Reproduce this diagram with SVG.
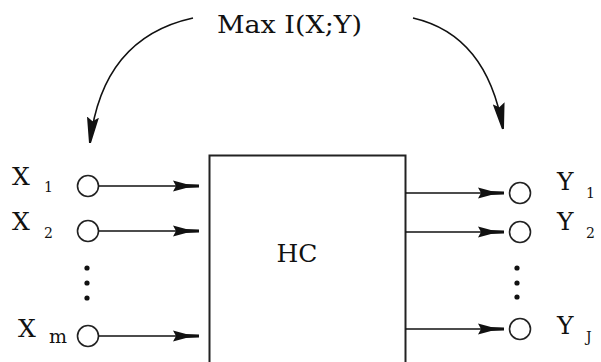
<svg xmlns="http://www.w3.org/2000/svg" width="601" height="362" viewBox="0 0 601 362">
<style>
.t{font-family:"DejaVu Serif","Liberation Serif",serif;fill:#111}
.big{font-size:25px}
.sub{font-size:14px}
.port{fill:#fff;stroke:#222;stroke-width:1.6}
.ln{fill:none;stroke:#111;stroke-width:1.6}
.dot{fill:#111}
</style>
<defs>
<marker id="ah" viewBox="0 0 26 12" refX="26" refY="6" markerWidth="26" markerHeight="12" markerUnits="userSpaceOnUse" orient="auto">
<path d="M0,0.5 L13,4 L26,4.5 L26,7.5 L13,8 L0,11.5 L3,6 Z" fill="#111"/>
</marker>
<marker id="ch" viewBox="0 0 26 12" refX="26" refY="6" markerWidth="26" markerHeight="12" markerUnits="userSpaceOnUse" orient="auto">
<path d="M0,0 L26,5 L26,7 L0,12 L4,6 Z" fill="#111"/>
</marker>
</defs>
<g id="title"><text class="t big" x="217" y="33" textLength="145" lengthAdjust="spacingAndGlyphs">Max I(X;Y)</text></g>
<g id="hc"><rect x="209.5" y="155.5" width="196" height="220" fill="#fff" stroke="#222" stroke-width="2"/><text class="t big" x="297" y="262" text-anchor="middle">HC</text></g>
<g id="x1"><circle class="port" cx="88" cy="186" r="10.5"/><text class="t big" x="12" y="185">X</text><text class="t sub" x="44" y="192">1</text></g>
<g id="x2"><circle class="port" cx="88" cy="231" r="10.5"/><text class="t big" x="12" y="230">X</text><text class="t sub" x="44" y="238">2</text></g>
<g id="xm"><circle class="port" cx="88" cy="336" r="10.5"/><text class="t big" x="18" y="337">X</text><text class="t" style="font-size:19px" x="49" y="343">m</text></g>
<g id="xdots"><circle class="dot" cx="87" cy="268" r="2.6"/><circle class="dot" cx="87" cy="283" r="2.6"/><circle class="dot" cx="87" cy="298" r="2.6"/></g>
<g id="y1"><circle class="port" cx="520" cy="193" r="10.5"/><text class="t big" x="557" y="190">Y</text><text class="t sub" x="586" y="198">1</text></g>
<g id="y2"><circle class="port" cx="520" cy="232" r="10.5"/><text class="t big" x="557" y="230">Y</text><text class="t sub" x="586" y="238">2</text></g>
<g id="yj"><circle class="port" cx="520" cy="329" r="10.5"/><text class="t big" x="557" y="334">Y</text><text class="t sub" x="586" y="342">J</text></g>
<g id="ydots"><circle class="dot" cx="517" cy="268" r="2.6"/><circle class="dot" cx="517" cy="283" r="2.6"/><circle class="dot" cx="517" cy="297" r="2.6"/></g>
<g id="connectors">
<line class="ln" x1="98.5" y1="186" x2="199" y2="186" marker-end="url(#ah)"/>
<line class="ln" x1="98.5" y1="231" x2="199" y2="231" marker-end="url(#ah)"/>
<line class="ln" x1="98.5" y1="336" x2="199" y2="336" marker-end="url(#ah)"/>
<line class="ln" x1="405.5" y1="193" x2="504" y2="193" marker-end="url(#ah)"/>
<line class="ln" x1="405.5" y1="232" x2="504" y2="232" marker-end="url(#ah)"/>
<line class="ln" x1="405.5" y1="329" x2="504" y2="329" marker-end="url(#ah)"/>
<path class="ln" d="M193,18 Q102,38 90,143" marker-end="url(#ch)"/>
<path class="ln" d="M413,18 Q487,35 503,129" marker-end="url(#ch)"/>
</g>
</svg>
